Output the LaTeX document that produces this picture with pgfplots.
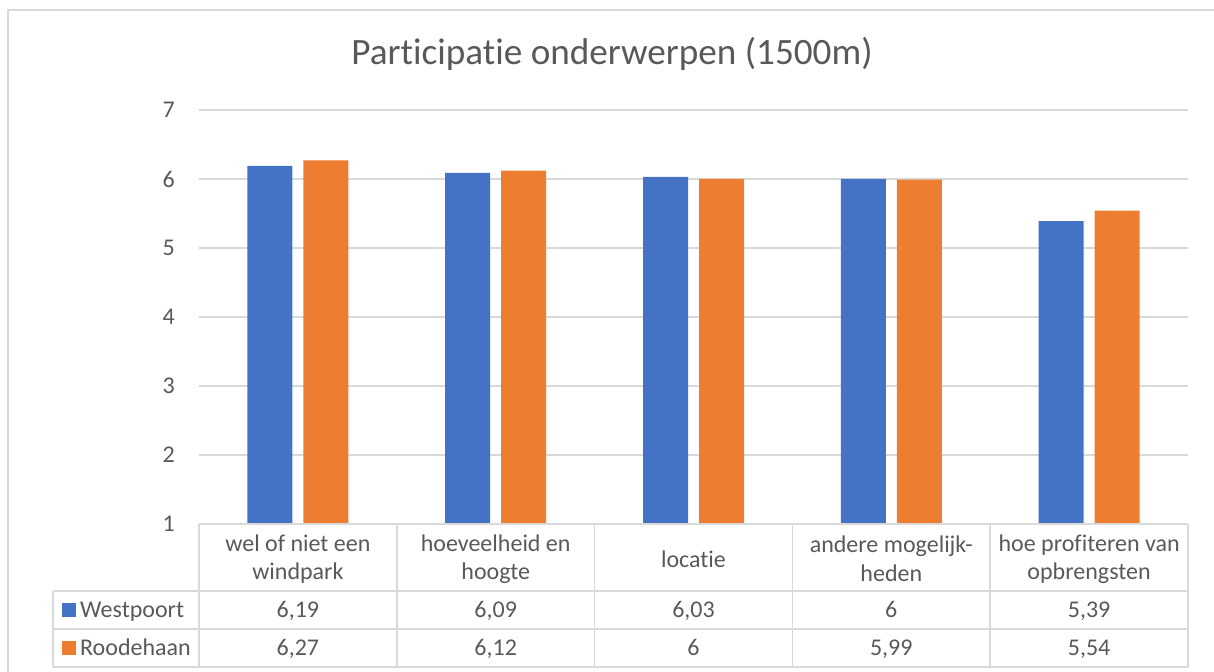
\documentclass[border=0pt]{standalone}
\usepackage{pgfplots}
\pgfplotsset{compat=1.18}
\usepackage{fontspec}
\setmainfont{Carlito}[Ligatures=NoCommon]
\definecolor{cblue}{HTML}{4472C4}
\definecolor{corange}{HTML}{ED7D31}
\definecolor{cgrid}{HTML}{D9D9D9}
\definecolor{ctext}{HTML}{595959}
\begin{document}
\begin{tikzpicture}[x=1bp,y=1bp]
\useasboundingbox (-199,-148) rectangle (1015,524);
\draw[cgrid, line width=1.5bp] (-191,-150) -- (-191,514) -- (1020,514);
\node[text=ctext, font=\fontsize{37.2bp}{40bp}\selectfont] at (413,470) {Participatie onderwerpen (1500m)};
\begin{axis}[
  at={(0,0)}, anchor=south west,
  scale only axis, width=989bp, height=414bp,
  xmin=-0.5, xmax=4.5, ymin=1, ymax=7,
  ytick={1,...,7}, xtick=\empty,
  ymajorgrids, grid style={cgrid, line width=1.2bp},
  axis line style={draw=none},
  major tick length=0pt,
  ybar=11bp, bar width=45bp,
  yticklabel style={font=\fontsize{24bp}{29bp}\selectfont, text=ctext, inner sep=0pt, xshift=-24bp},
  /pgf/number format/assume math mode=true,
  clip=true,
]
\addplot[fill=cblue, draw=none] coordinates {(0,6.19) (1,6.09) (2,6.03) (3,6) (4,5.39)};
\addplot[fill=corange, draw=none] coordinates {(0,6.27) (1,6.12) (2,6) (3,5.99) (4,5.54)};
\end{axis}
\begin{scope}[cgrid, line width=1.5bp]
\draw (0,0) -- (989,0);
\foreach \y in {-67,-105,-143} \draw (-146,\y) -- (989,\y);
\draw (-146,-67) -- (-146,-143);
\foreach \i in {0,...,5} \draw (\i*197.8,0) -- (\i*197.8,-143);
\end{scope}
\begin{scope}[every node/.style={text=ctext, font=\fontsize{24bp}{28.5bp}\selectfont, align=center, inner sep=0pt}]
\node at (98.9,-35) {wel of niet een\\windpark};
\node at (296.7,-35) {hoeveelheid en\\hoogte};
\node at (494.5,-35) {locatie};
\node at (692.3,-35) {andere mogelijk-\\heden};
\node at (890.1,-35) {hoe profiteren van\\opbrengsten};
\node[anchor=base] at (98.9,-94) {6,19};
\node[anchor=base] at (296.7,-94) {6,09};
\node[anchor=base] at (494.5,-94) {6,03};
\node[anchor=base] at (692.3,-94) {6};
\node[anchor=base] at (890.1,-94) {5,39};
\node[anchor=base] at (98.9,-132) {6,27};
\node[anchor=base] at (296.7,-132) {6,12};
\node[anchor=base] at (494.5,-132) {6};
\node[anchor=base] at (692.3,-132) {5,99};
\node[anchor=base] at (890.1,-132) {5,54};
\node[anchor=base west] at (-119,-94) {Westpoort};
\node[anchor=base west] at (-119,-132) {Roodehaan};
\end{scope}
\fill[cblue] (-137,-93) rectangle (-123,-79);
\fill[corange] (-137,-131) rectangle (-123,-117);
\end{tikzpicture}
\end{document}
